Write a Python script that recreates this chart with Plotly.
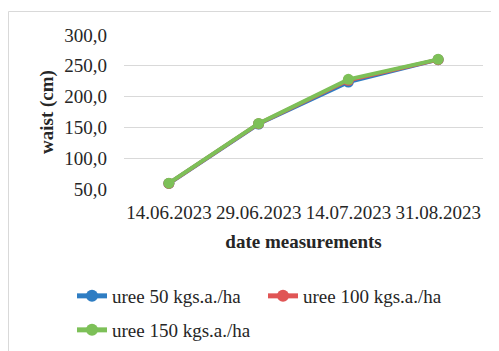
import plotly.graph_objects as go

dates = ["14.06.2023", "29.06.2023", "14.07.2023", "31.08.2023"]
uree_50 = [59.0, 155.5, 223.5, 260.0]
uree_100 = [59.0, 156.0, 226.5, 260.0]
uree_150 = [59.5, 156.5, 228.0, 260.5]
series_names = ["uree 50 kgs.a./ha", "uree 100 kgs.a./ha", "uree 150 kgs.a./ha"]
y_ticks = [50, 100, 150, 200, 250, 300]
y_tick_labels = ["50,0", "100,0", "150,0", "200,0", "250,0", "300,0"]

colors = ["#2E7DC3", "#E05555", "#7DC058"]
FONT = "Liberation Serif, Times New Roman, serif"
TXT = "#262626"

# page body has an 8px margin, so the figure is drawn 8px smaller and offset
OFF = 8
W, H = 499 - OFF, 351 - OFF
L, R, T, B = 116, 16, 27, 162
pw, ph = W - L - R, H - T - B

fig = go.Figure()
legends = ["legend", "legend", "legend2"]
for name, vals, c, lg in zip(series_names, [uree_50, uree_100, uree_150], colors, legends):
    fig.add_trace(go.Scatter(
        x=dates, y=vals, name=name, mode="lines+markers",
        line=dict(color=c, width=4),
        marker=dict(color=c, size=11),
        legend=lg,
    ))

def px2paper_x(px):
    return (px - L) / pw

def px2paper_y(py):
    return (H - B - py) / ph

fig.add_shape(type="rect", xref="paper", yref="paper",
              x0=px2paper_x(0.5), x1=px2paper_x(520), y0=px2paper_y(3.5), y1=px2paper_y(380),
              line=dict(color="#D9D9D9", width=1), fillcolor="rgba(0,0,0,0)", layer="below")

leg_common = dict(
    orientation="h", xanchor="left", yanchor="top",
    entrywidth=146, entrywidthmode="pixels",
    font=dict(family=FONT, size=19, color=TXT),
    itemsizing="constant", bgcolor="rgba(0,0,0,0)",
)

fig.update_layout(
    width=W, height=H,
    margin=dict(l=L, r=R, t=T, b=B, autoexpand=False),
    paper_bgcolor="white", plot_bgcolor="white",
    font=dict(family=FONT, size=19, color=TXT),
    showlegend=True,
    legend=dict(x=px2paper_x(64), y=px2paper_y(269), **leg_common),
    legend2=dict(x=px2paper_x(64), y=px2paper_y(303), **leg_common),
    xaxis=dict(
        type="category", range=[-0.5, 3.5], showgrid=False, zeroline=False, showline=False,
        ticks="", ticklabelstandoff=10, automargin=False,
        tickfont=dict(family=FONT, size=19, color=TXT),
        title=dict(text="<b>date measurements</b>", font=dict(family=FONT, size=19, color=TXT), standoff=12),
    ),
    yaxis=dict(
        range=[50, 300], tickvals=y_ticks, ticktext=y_tick_labels,
        showgrid=True, gridcolor="#D9D9D9", gridwidth=1, zeroline=False, showline=False,
        ticks="", ticklabelstandoff=16, automargin=False,
        tickfont=dict(family=FONT, size=19, color=TXT),
        title=dict(text="<b>waist (cm)</b>", font=dict(family=FONT, size=19, color=TXT), standoff=5),
    ),
)

fig.write_html("out.html")
